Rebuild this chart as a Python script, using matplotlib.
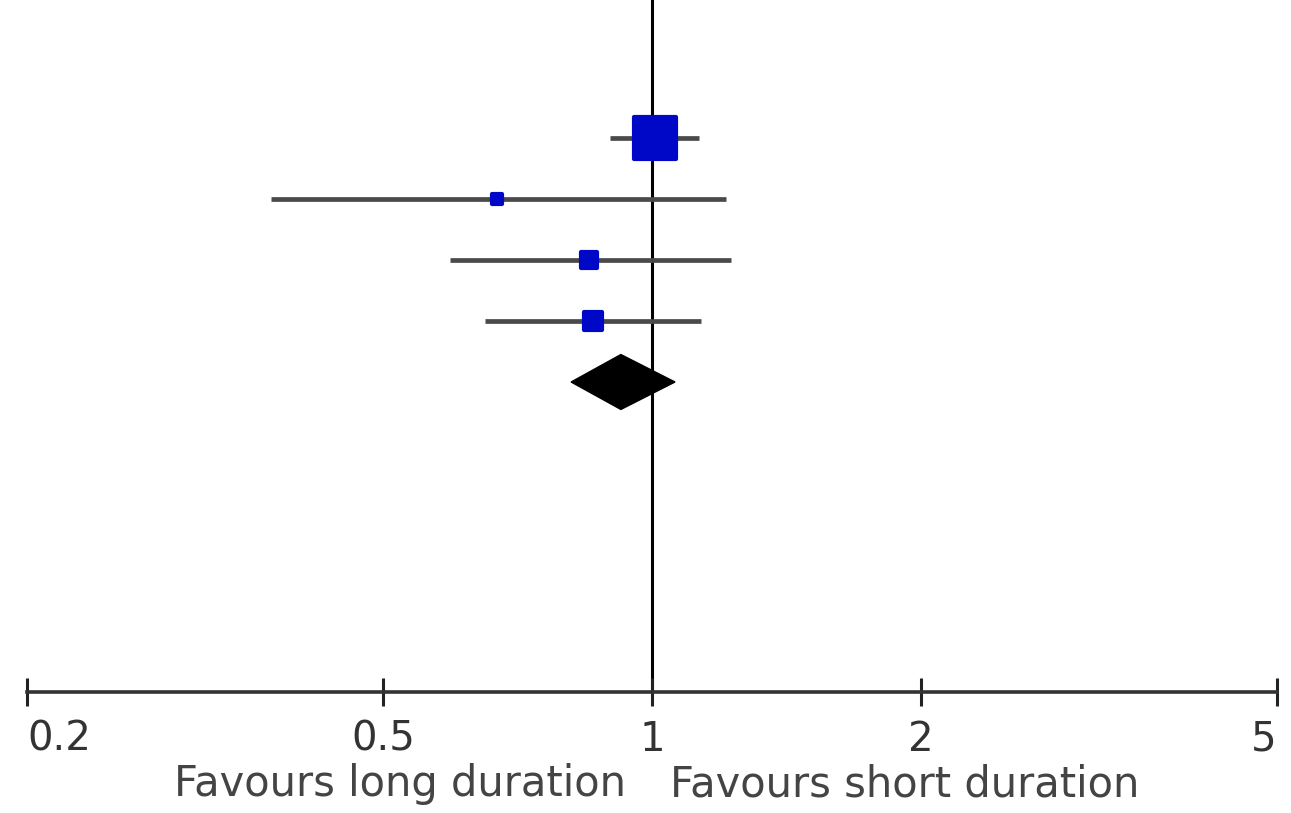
import numpy as np
import matplotlib.pyplot as plt
from matplotlib.markers import MarkerStyle

plt.rcParams['font.family'] = ['DejaVu Sans']

# Study estimates (ratio, lower CI, upper CI, weight %)
estimates = [1.008, 0.671, 0.850, 0.859]
ci_low = [0.897, 0.375, 0.594, 0.650]
ci_high = [1.13, 1.21, 1.226, 1.134]
weights = [66, 6, 13, 15]

# Pooled estimate (diamond)
pooled = 0.923
pooled_low = 0.812
pooled_high = 1.061

tick_values = [0.2, 0.5, 1, 2, 5]
tick_labels = ["0.2", "0.5", "1", "2", "5"]
left_label = "Favours long duration"
right_label = "Favours short duration"

fig = plt.figure(figsize=(12.91, 8.13), dpi=100)
ax = fig.add_axes([27 / 1291, (813 - 692) / 813, 1250 / 1291, 692 / 813])
ax.set_xscale('log')
ax.set_xlim(0.2, 5)
ax.set_ylim(10.08, -1.26)

# line of no effect
ax.axvline(1, color='black', linewidth=2.2, zorder=1)

rows = np.arange(1, len(estimates) + 1)
for y, est, lo, hi, w in zip(rows, estimates, ci_low, ci_high, weights):
    ax.plot([lo, hi], [y, y], color='#4a4a4a', linewidth=3.4, solid_capstyle='butt', zorder=2)
    side = 46 * np.sqrt(w / max(weights)) * 0.72
    # small boxes look rounded in the original
    ax.plot(est, y, marker=MarkerStyle('s', joinstyle='round'), markersize=side - 3,
            markerfacecolor='#0008c8', markeredgecolor='#0008c8', markeredgewidth=3,
            linestyle='none', zorder=3)

yd = len(estimates) + 1
ax.fill([pooled_low, pooled, pooled_high, pooled], [yd, yd - 0.45, yd, yd + 0.45],
        color='black', zorder=3)

for s in ['top', 'right', 'left']:
    ax.spines[s].set_visible(False)
ax.spines['bottom'].set_color('#333333')
ax.spines['bottom'].set_linewidth(2.6)
ax.set_yticks([])
ax.set_xticks(tick_values)
ax.set_xticklabels(tick_labels)
ax.xaxis.set_minor_locator(plt.NullLocator())
ax.tick_params(axis='x', direction='inout', length=20, width=2.2, color='#222222',
               labelsize=29, labelcolor='#333333', pad=10)
labels = ax.get_xticklabels()
labels[0].set_ha('left')
labels[-1].set_ha('right')

ax.annotate(left_label, xy=(1, 0), xycoords=('data', 'axes fraction'),
            xytext=(-19, -75), textcoords='offset points', ha='right', va='baseline',
            fontsize=30, color='#444444', annotation_clip=False)
ax.annotate(right_label, xy=(1, 0), xycoords=('data', 'axes fraction'),
            xytext=(13, -75), textcoords='offset points', ha='left', va='baseline',
            fontsize=30, color='#444444', annotation_clip=False)

fig.savefig("out.png", dpi=100)
